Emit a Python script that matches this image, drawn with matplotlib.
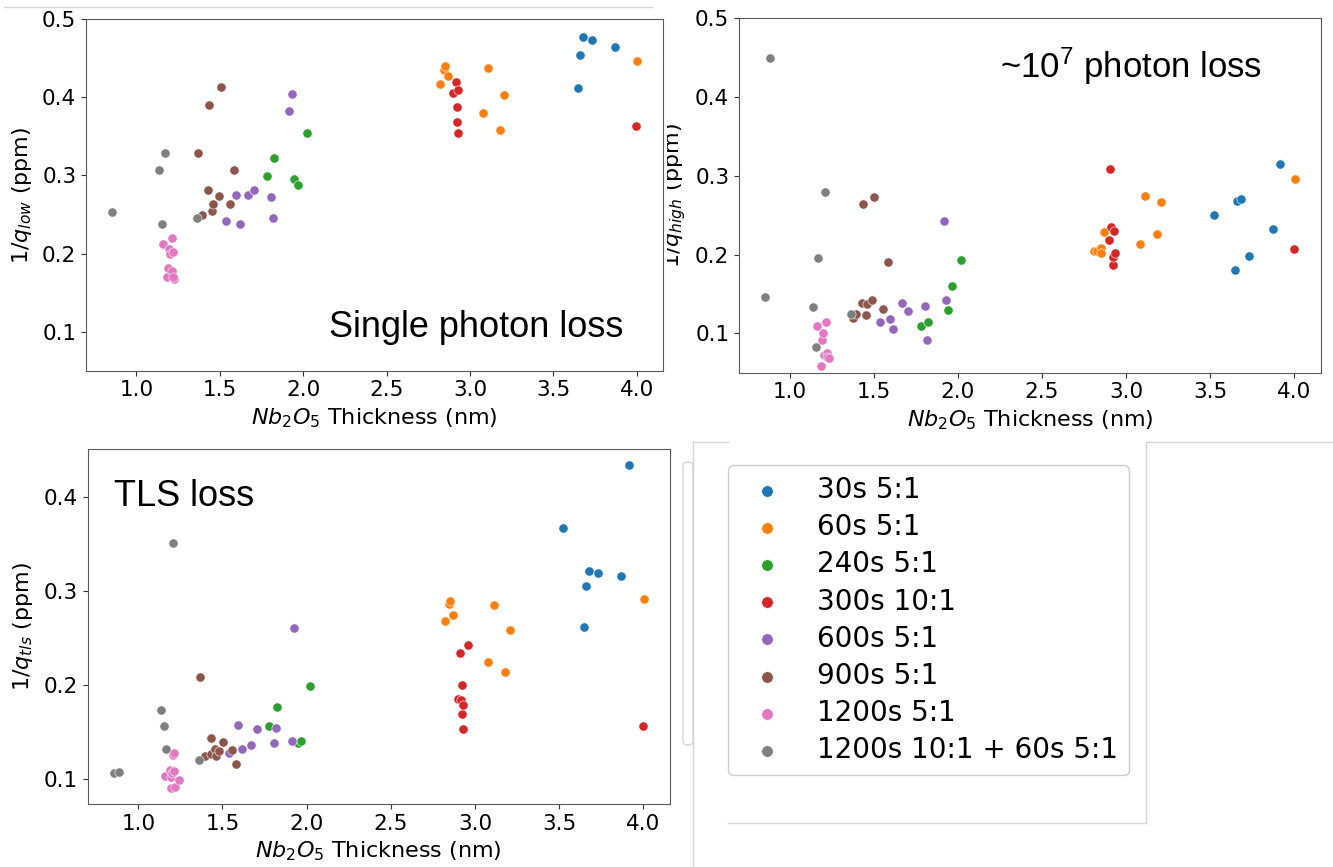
import matplotlib
matplotlib.use("Agg")
import matplotlib.pyplot as plt
from matplotlib.lines import Line2D
from matplotlib.patches import FancyBboxPatch
from matplotlib.transforms import Bbox, TransformedBbox

# legend order: 30s, 60s, 240s, 300s, 600s, 900s, 1200s, 1200s+60s
labels = ["30s 5:1", "60s 5:1", "240s 5:1", "300s 10:1", "600s 5:1",
          "900s 5:1", "1200s 5:1", "1200s 10:1 + 60s 5:1"]
colors = ["tab:blue", "tab:orange", "tab:green", "tab:red", "tab:purple",
          "tab:brown", "tab:pink", "tab:gray"]

# single photon loss, 1/q_low (ppm)
low_x = [
    [3.647, 3.661, 3.677, 3.731, 3.871],
    [2.823, 2.843, 2.851, 2.871, 3.081, 3.111, 3.179, 3.207, 4.0],
    [1.783, 1.823, 1.948, 1.969, 2.021],
    [2.899, 2.915, 2.923, 2.923, 2.929, 2.931, 3.997],
    [1.535, 1.597, 1.619, 1.671, 1.705, 1.805, 1.817, 1.915, 1.931],
    [1.371, 1.395, 1.433, 1.439, 1.453, 1.459, 1.495, 1.505, 1.559, 1.583],
    [1.161, 1.183, 1.191, 1.199, 1.203, 1.215, 1.217, 1.219, 1.227, 1.223],
    [0.856, 1.138, 1.157, 1.171, 1.363],
]
low_y = [
    [0.412, 0.454, 0.477, 0.473, 0.465],
    [0.417, 0.435, 0.440, 0.427, 0.380, 0.438, 0.358, 0.403, 0.447],
    [0.299, 0.322, 0.296, 0.288, 0.355],
    [0.405, 0.420, 0.388, 0.368, 0.410, 0.355, 0.364],
    [0.242, 0.275, 0.238, 0.275, 0.282, 0.272, 0.245, 0.382, 0.404],
    [0.329, 0.249, 0.282, 0.390, 0.254, 0.263, 0.274, 0.413, 0.263, 0.307],
    [0.212, 0.170, 0.181, 0.206, 0.199, 0.178, 0.220, 0.202, 0.168, 0.170],
    [0.253, 0.307, 0.238, 0.329, 0.245],
]

# ~1e7 photon loss, 1/q_high (ppm)
high_x = [
    [3.521, 3.647, 3.661, 3.681, 3.733, 3.871, 3.917],
    [2.812, 2.828, 2.848, 2.850, 2.870, 3.083, 3.111, 3.182, 3.208, 4.002],
    [1.779, 1.822, 1.943, 1.967, 2.020],
    [2.899, 2.907, 2.913, 2.921, 2.923, 2.931, 2.933, 3.998],
    [1.536, 1.595, 1.616, 1.668, 1.705, 1.805, 1.817, 1.916, 1.929],
    [1.373, 1.393, 1.432, 1.436, 1.452, 1.460, 1.490, 1.502, 1.557, 1.583],
    [1.159, 1.183, 1.191, 1.199, 1.203, 1.215, 1.219, 1.219, 1.235],
    [0.855, 0.884, 1.135, 1.156, 1.167, 1.207, 1.365],
]
high_y = [
    [0.250, 0.181, 0.268, 0.271, 0.198, 0.232, 0.315],
    [0.205, 0.205, 0.208, 0.202, 0.229, 0.213, 0.274, 0.226, 0.267, 0.296],
    [0.109, 0.114, 0.129, 0.160, 0.193],
    [0.219, 0.309, 0.235, 0.187, 0.197, 0.230, 0.202, 0.207],
    [0.115, 0.118, 0.105, 0.139, 0.128, 0.135, 0.091, 0.242, 0.142],
    [0.120, 0.125, 0.138, 0.264, 0.123, 0.137, 0.142, 0.273, 0.131, 0.190],
    [0.109, 0.059, 0.091, 0.100, 0.073, 0.114, 0.075, 0.070, 0.069],
    [0.146, 0.450, 0.134, 0.082, 0.196, 0.280, 0.124],
]

# TLS loss, 1/q_tls (ppm)
tls_x = [
    [3.520, 3.645, 3.660, 3.678, 3.732, 3.870, 3.914],
    [2.823, 2.845, 2.850, 2.870, 3.080, 3.112, 3.179, 3.205, 4.001],
    [1.777, 1.822, 1.947, 1.969, 2.020],
    [2.896, 2.908, 2.917, 2.920, 2.920, 2.927, 2.930, 2.959, 3.995],
    [1.537, 1.595, 1.618, 1.668, 1.704, 1.805, 1.815, 1.913, 1.925],
    [1.369, 1.398, 1.430, 1.434, 1.454, 1.460, 1.478, 1.501, 1.555, 1.583],
    [1.157, 1.188, 1.192, 1.192, 1.200, 1.204, 1.212, 1.212, 1.220, 1.240],
    [0.856, 0.884, 1.137, 1.155, 1.167, 1.204, 1.363],
]
tls_y = [
    [0.367, 0.262, 0.306, 0.322, 0.319, 0.316, 0.434],
    [0.268, 0.286, 0.289, 0.275, 0.224, 0.285, 0.214, 0.259, 0.292],
    [0.156, 0.177, 0.138, 0.140, 0.199],
    [0.185, 0.234, 0.184, 0.200, 0.169, 0.179, 0.153, 0.243, 0.156],
    [0.127, 0.157, 0.132, 0.136, 0.153, 0.138, 0.154, 0.140, 0.261],
    [0.208, 0.124, 0.143, 0.126, 0.132, 0.124, 0.130, 0.139, 0.131, 0.116],
    [0.103, 0.109, 0.102, 0.090, 0.106, 0.125, 0.127, 0.108, 0.091, 0.099],
    [0.106, 0.107, 0.173, 0.156, 0.132, 0.351, 0.120],
]

W, H = 1333, 867
plt.rcParams['mathtext.rm'] = 'Liberation Sans'
plt.rcParams['mathtext.it'] = 'Liberation Sans:italic'

fig = plt.figure(figsize=(W / 100, H / 100), dpi=100)


def fx(px):
    return px / W


def fy(py):
    return 1 - py / H


def panel(l, t, r, b, xs, ys, ylabel, label_x, ylim=None):
    ax = fig.add_axes([fx(l), fy(b), (r - l) / W, (b - t) / H])
    for x, y, c, lab in zip(xs, ys, colors, labels):
        ax.scatter(x, y, s=44, color=c, edgecolor='white', linewidth=0.4, label=lab)
    if ylim:
        ax.set_ylim(*ylim)
    ax.set_xticks([1.0, 1.5, 2.0, 2.5, 3.0, 3.5, 4.0])
    ax.tick_params(labelsize=15.5, color='0.2')
    for s in ax.spines.values():
        s.set_color('0.35')
    ax.set_xlabel('$Nb_2O_5$ Thickness (nm)', fontsize=16)
    ax.set_ylabel(ylabel, fontsize=16)
    ax.yaxis.set_label_coords(label_x, 0.5)
    return ax


ax1 = panel(86, 19.3, 663, 370.7, low_x, low_y, '$1/q_{low}$ (ppm)', -0.09, (0.05, 0.5))
ax2 = panel(739, 18.3, 1321, 372.7, high_x, high_y, '$1/q_{high}$ (ppm)', -0.087, (0.05, 0.5))
ax3 = panel(87.6, 449.3, 670, 804.3, tls_x, tls_y, '$1/q_{tls}$ (ppm)', -0.09)
ax3.set_yticks([0.1, 0.2, 0.3, 0.4])

# left part of the second panel's ylabel is hidden under the first panel
lab2 = ax2.yaxis.label
lab2.set_clip_on(True)
lab2.set_clip_box(TransformedBbox(Bbox([[fx(667), 0], [1, 1]]), fig.transFigure))

fig.text(fx(329), fy(337), 'Single photon loss', fontsize=26,
         family='Liberation Sans', va='baseline')
fig.text(fx(1000), fy(78), '~10$^7$ photon loss', fontsize=25,
         family='Liberation Sans', math_fontfamily='custom', va='baseline')
fig.text(fx(114), fy(506), 'TLS loss', fontsize=26,
         family='Liberation Sans', va='baseline')

h, l = ax1.get_legend_handles_labels()
fig.legend(h, l, loc='upper left', bbox_to_anchor=(fx(728), fy(465)),
           borderaxespad=0, fontsize=20, markerscale=1.25, labelspacing=0.33,
           handletextpad=0.8, edgecolor='0.8', framealpha=1)

# faint frame remnants of the pasted pieces
grey = '#d6d6d6'
segs = [
    ((4, 7), (652, 7)),
    ((1146, 441.5), (1333, 441.5)),
    ((693, 441.5), (728, 441.5)),
    ((693, 441.5), (693, 867)),
    ((1146, 441.5), (1146, 823)),
    ((728, 823), (1146, 823)),
]
for (x0, y0), (x1, y1) in segs:
    fig.add_artist(Line2D([fx(x0), fx(x1)], [fy(y0), fy(y1)], color=grey, lw=1))
fig.add_artist(FancyBboxPatch((fx(683), fy(745)), fx(10), (745 - 462) / H,
                              boxstyle='round,pad=0,rounding_size=0.004',
                              fc='none', ec=grey, lw=1, transform=fig.transFigure))

fig.savefig('out.png', dpi=100)
